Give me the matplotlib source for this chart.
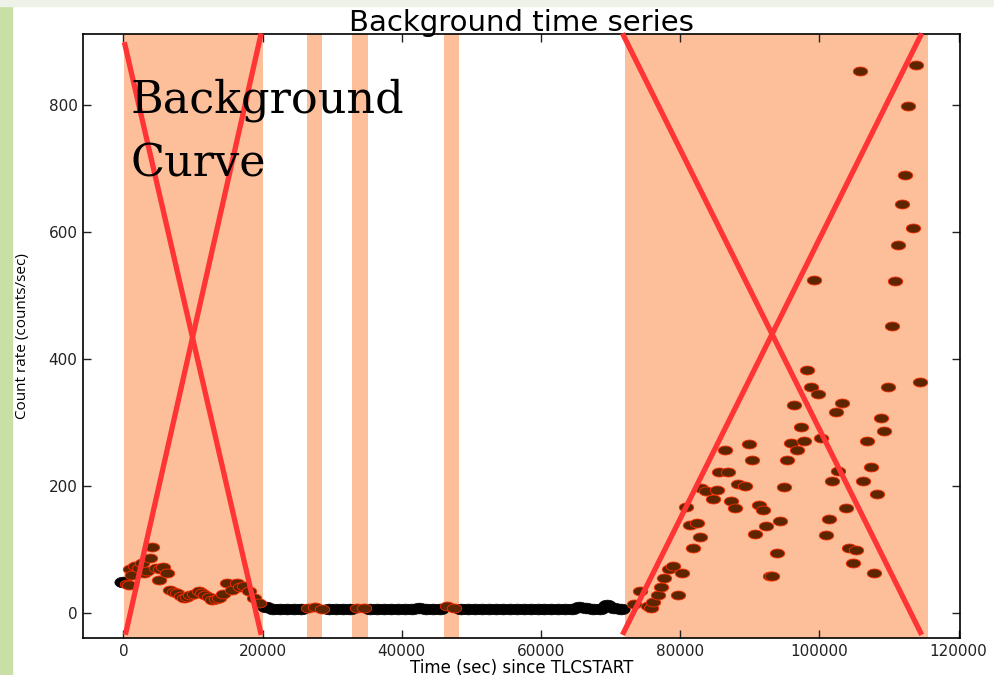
import math
import matplotlib.pyplot as plt
from matplotlib.patches import Rectangle

# count rate before/after the quiet part of the observation
early_t = [0, 500, 760, 1000, 1300, 1720, 2200, 2690, 2920, 3420, 3890, 4130, 4630, 5090,
           5330, 5740, 6290, 6760, 7250, 7720, 8210, 8680, 9160, 9640, 10170, 10830, 11280,
           11790, 12290, 12760, 13240, 13720, 14300, 14910, 15640, 16350, 16820, 17310,
           18020, 18750, 19460]
early_r = [49, 45, 44, 68, 60, 73, 70, 78, 62, 66, 86, 104, 70, 52, 68, 72, 62, 36, 33, 31,
           26, 23, 25, 28, 30, 34, 31, 28, 24, 20, 22, 23, 30, 47, 36, 47, 40, 42, 34, 23, 15]

# quiet stretch (mostly good time)
mid_t = [20500, 21500, 22500, 23500, 24500, 25500, 26500, 27500, 28500, 29500, 30500, 31500,
         32500, 33500, 34500, 35500, 36500, 37500, 38500, 39500, 40500, 41500, 42500, 43500,
         44500, 45500, 46500, 47500, 48500, 49500, 50500, 51500, 52500, 53500, 54500, 55500,
         56500, 57500, 58500, 59500, 60500, 61500, 62500, 63500, 64500, 65500, 66500, 67500,
         68500, 69500, 70500, 71500]
mid_r = [9, 6, 5, 5, 6, 5, 7, 9, 6, 5, 5, 6, 5, 8, 7, 5, 5, 6, 5, 5, 6, 5, 7, 5, 5, 6, 11, 7,
         5, 5, 5, 6, 5, 5, 5, 6, 5, 5, 6, 5, 5, 5, 6, 5, 5, 9, 7, 5, 5, 12, 7, 5]

# flaring end of the observation
late_t = [73420, 74290, 75350, 75830, 76070, 76880, 77260, 77740, 78460, 78950, 79670, 80290,
          80860, 81340, 81820, 82440, 82880, 83020, 83740, 84700, 85320, 85570, 86370, 86860,
          87330, 87810, 88300, 89350, 89830, 90360, 90790, 91260, 91890, 92270, 92850, 93240,
          93910, 94390, 94920, 95390, 95870, 96300, 96830, 97310, 97790, 98270, 98850, 99230,
          99810, 100280, 100910, 101390, 101870, 102340, 102690, 103300, 103780, 104270,
          104850, 105320, 105800, 106290, 106860, 107380, 107870, 108340, 108820, 109300,
          109880, 110360, 110830, 111320, 111800, 112270, 112760, 113380, 113850, 114430]
late_r = [14, 34, 10, 8, 16, 27, 41, 54, 68, 73, 27, 63, 166, 138, 102, 141, 119, 196, 191,
          179, 194, 222, 257, 221, 176, 165, 202, 199, 265, 240, 124, 170, 162, 136, 57, 58,
          94, 145, 198, 241, 268, 328, 257, 293, 271, 383, 356, 524, 345, 275, 123, 148, 208,
          317, 224, 330, 165, 102, 78, 98, 853, 207, 271, 230, 63, 187, 307, 287, 356, 452,
          522, 580, 644, 690, 798, 607, 863, 364]

# intervals flagged as background-dominated
bad_start = [100, 26400, 32900, 46000, 72100]
bad_stop = [20000, 28600, 35100, 48200, 115600]

# the two crosses drawn over the rejected stretches
cross_x = [[140, 19800], [19800, 290], [71700, 114700], [114700, 71700]]
cross_y = [[899, -35], [913, -35], [913, -35], [913, -35]]

time = early_t + mid_t + late_t
rate = early_r + mid_r + late_r
bad = [any(a <= t <= b for a, b in zip(bad_start, bad_stop)) for t in time]
good_t = [t for t, f in zip(time, bad) if not f]
good_r = [r for r, f in zip(rate, bad) if not f]
bad_t = [t for t, f in zip(time, bad) if f]
bad_r = [r for r, f in zip(rate, bad) if f]

# markers look squashed in the original screenshot
blob = [(0.5 * math.cos(k / 20 * 2 * math.pi), 0.31 * math.sin(k / 20 * 2 * math.pi)) for k in range(21)]

fig = plt.figure(figsize=(9.95, 6.75), dpi=100)
fig.patch.set_facecolor('white')
fig.add_artist(Rectangle((0, 0), 0.012, 1, transform=fig.transFigure, color='#c8dfa6', zorder=-5))
fig.add_artist(Rectangle((0, 1 - 6 / 675), 1, 6 / 675, transform=fig.transFigure, color='#eef2e8', zorder=-5))

ax = fig.add_axes([83 / 995, 1 - 638 / 675, 877 / 995, 604 / 675])

for a, b in zip(bad_start, bad_stop):
    ax.axvspan(a, b, color='#fdbf9a', lw=0, zorder=0)

ax.plot(good_t, good_r, ls='none', marker=blob, ms=12.5, mfc='black', mec='black', mew=0.5, zorder=2)
ax.plot(bad_t, bad_r, ls='none', marker=blob, ms=10.5, mfc='#5e2600', mec='#ff2a00', mew=0.6, zorder=3)

for xs, ys in zip(cross_x, cross_y):
    ax.plot(xs, ys, color='#ff3535', lw=3.8, solid_capstyle='butt', clip_on=False, zorder=4)

ax.set_xlim(-5800, 120200)
ax.set_ylim(-40, 912)
ax.set_xticks([0, 20000, 40000, 60000, 80000, 100000, 120000])
ax.set_yticks([0, 200, 400, 600, 800])
ax.tick_params(direction='in', top=True, right=True, length=6, width=1, labelsize=11,
               colors='#222222', pad=4)
for s in ax.spines.values():
    s.set_linewidth(1.2)

ax.set_title('Background time series', fontsize=21, pad=2)
ax.set_xlabel('Time (sec) since TLCSTART', fontsize=12, labelpad=0)
ax.set_ylabel('Count rate (counts/sec)', fontsize=11, family='Open Sans', labelpad=13)

ax.text(1000, 0.927, 'Background\nCurve', transform=ax.get_xaxis_transform(), ha='left', va='top',
        fontsize=32, family='DejaVu Serif', linespacing=1.6, zorder=5)

fig.savefig('out.png', dpi=100)
